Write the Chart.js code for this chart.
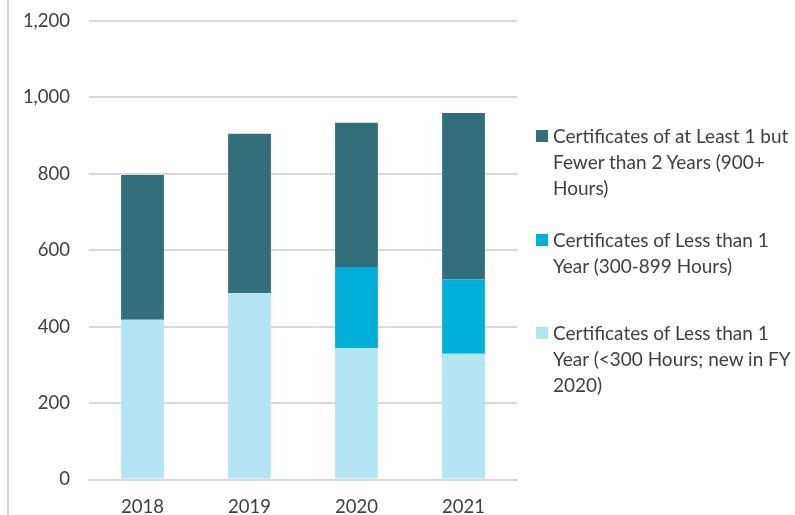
<!DOCTYPE html>
<html>
<head>
<meta charset="utf-8">
<script src="https://cdn.jsdelivr.net/npm/chart.js@4/dist/chart.umd.min.js"></script>
<style>
  html, body { margin: 0; padding: 0; background: #fff; }
  #wrap { position: relative; width: 795px; height: 515px; overflow: hidden; }
  #frame { position: absolute; left: 7px; top: 0; width: 2px; height: 515px; background: #d4d4d4; }
  #chart { position: absolute; left: 0; top: 0; }
  #legend { position: absolute; left: 536px; top: 0; width: 259px; font-family: Lato, sans-serif; font-size: 19px; color: #404040; }
  .item { position: absolute; left: 0; line-height: 26px; padding-left: 17px; width: 242px; }
  .swatch { position: absolute; left: 0; top: 7px; width: 12px; height: 12px; }
</style>
</head>
<body>
<div id="wrap">
  <div id="frame"></div>
  <canvas id="chart" width="795" height="515"></canvas>
  <div id="legend"></div>
</div>
<script>
/* ── data ── */
const years = ['2018', '2019', '2020', '2021'];
const under300  = [418, 488, 344, 329];
const hrs300899 = [0, 0, 212, 195];
const hrs900    = [379, 417, 378, 435];
const yTicks    = [0, 200, 400, 600, 800, 1000, 1200];

const labelUnder300 = 'Certificates of Less than 1 Year (<300 Hours; new in FY 2020)';
const label300899   = 'Certificates of Less than 1 Year (300-899 Hours)';
const label900      = 'Certificates of at Least 1 but Fewer than 2 Years (900+ Hours)';

/* ── legend (HTML, so labels can wrap) ── */
const legendItems = [
  { text: label900,      color: '#336f7a', top: 123 },
  { text: label300899,   color: '#00b0d8', top: 227 },
  { text: labelUnder300, color: '#b3e5f2', top: 320 },
];
document.getElementById('legend').innerHTML = legendItems.map((it) =>
  `<div class="item" style="top:${it.top}px"><span class="swatch" style="background:${it.color}"></span>${it.text
    .replace(/&/g, '&amp;').replace(/</g, '&lt;')}</div>`
).join('');

/* ── chart ── */
const tickFont = { family: 'Lato, sans-serif', size: 18.5 };

new Chart(document.getElementById('chart'), {
  type: 'bar',
  data: {
    labels: years,
    datasets: [
      { label: labelUnder300, data: under300,  backgroundColor: '#b3e5f2' },
      { label: label300899,   data: hrs300899, backgroundColor: '#00b0d8' },
      { label: label900,      data: hrs900,    backgroundColor: '#336f7a' },
    ],
  },
  options: {
    responsive: false,
    animation: false,
    barPercentage: 0.4,
    categoryPercentage: 1,
    layout: { padding: { top: 21, right: 278, bottom: 0, left: 0 } },
    plugins: { legend: { display: false }, tooltip: { enabled: false } },
    scales: {
      x: {
        stacked: true,
        grid: { display: false },
        border: { color: '#d9d9d9', width: 2 },
        ticks: { color: '#404040', font: tickFont, padding: 8 },
        afterFit: (s) => { s.height = 35.5; },
      },
      y: {
        stacked: true,
        min: 0,
        max: 1200,
        afterBuildTicks: (s) => { s.ticks = yTicks.map((v) => ({ value: v })); },
        grid: { color: '#d9d9d9', lineWidth: 2, drawTicks: false },
        border: { display: false },
        ticks: {
          color: '#404040',
          font: tickFont,
          padding: 19,
          callback: (v) => v.toLocaleString('en-US'),
        },
        afterFit: (s) => { s.width = 89; s.paddingTop = 0; s.paddingBottom = 0; },
      },
    },
  },
});
</script>
</body>
</html>
